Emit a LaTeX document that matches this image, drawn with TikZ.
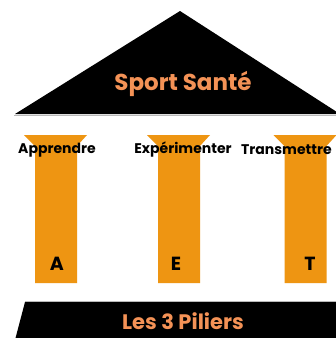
\documentclass[tikz,border=0pt]{standalone}
\usepackage{fontspec}
\setmainfont{Poppins}
\definecolor{pillar}{RGB}{238,149,18}
\definecolor{titleorange}{RGB}{244,146,86}
\begin{document}
\begin{tikzpicture}[x=1pt,y=-1pt,
  blackshape/.style={fill=black,draw=none},
  pillarfill/.style={fill=pillar,draw=none},
  edgeline/.style={draw=gray!55,line width=0.8pt},
  titletext/.style={text=titleorange,font=\fontsize{23}{25}\selectfont\bfseries,inner sep=0pt},
  wordtext/.style={text=black,font=\fontsize{14}{16}\selectfont\bfseries,inner sep=0pt},
  lettertext/.style={text=black,font=\fontsize{19}{21}\selectfont\bfseries,inner sep=0pt}]
\useasboundingbox (0,0) rectangle (336,338);
\fill[white] (0,0) rectangle (336,338);
% roof
\path[blackshape] (15,114) -- (180,11) -- (340,114) -- cycle;
\draw[edgeline] (14,115.5) -- (336,115.5);
\node[titletext] (roof) at (183,84) {Sport Santé};
% pillars
\foreach \n/\cx in {p1/56, p2/179, p3/305.5}{
  \path[pillarfill] (\cx-32,135) -- (\cx+31,135) -- (\cx+21,146) -- (\cx+21,283) -- (\cx-21,283) -- (\cx-21,146) -- cycle;
}
\node[wordtext] (w1) at (57,150) {Apprendre};
\node[wordtext] (w2) at (183,150) {Expérimenter};
\node[wordtext,anchor=west] (w3) at (241,150) {Transmettre};
\node[lettertext] (l1) at (57,264) {A};
\node[lettertext] (l2) at (176,264) {E};
\node[lettertext] (l3) at (310,264) {T};
% base
\draw[edgeline] (25,301.5) -- (336,301.5);
\path[blackshape] (25,302) -- (340,302) -- (340,340) -- (15,340) -- cycle;
\node[titletext,font=\fontsize{21}{23}\selectfont\bfseries] (base) at (183,321) {Les 3 Piliers};
\end{tikzpicture}
\end{document}
